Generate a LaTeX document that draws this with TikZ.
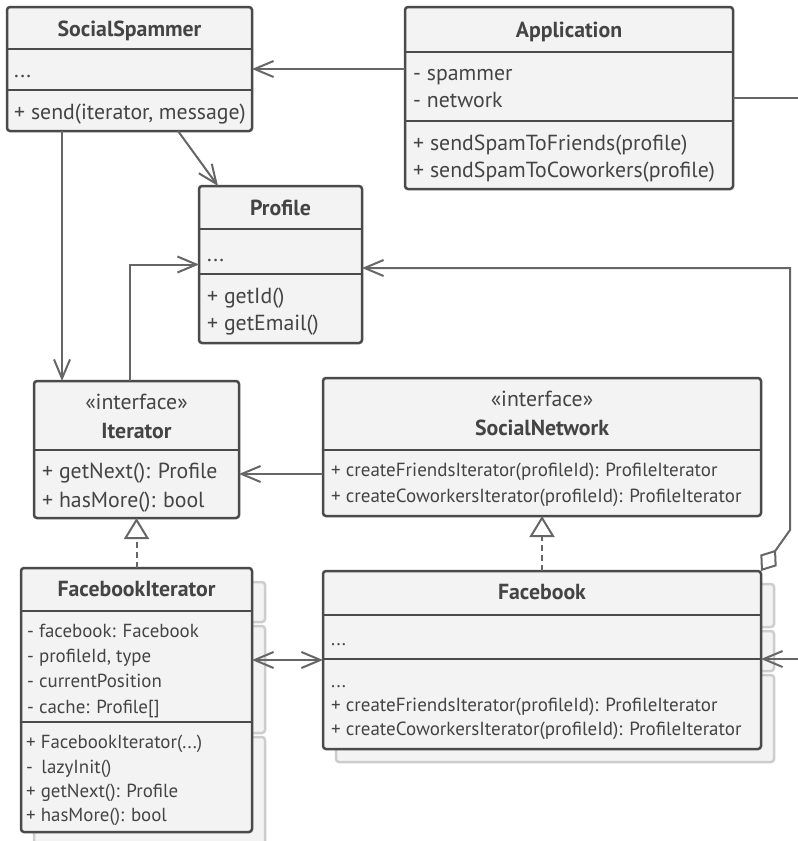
\documentclass[tikz,border=0pt]{standalone}
\usepackage{fontspec}
\setmainfont{PT Sans}
\usetikzlibrary{arrows.meta}
\definecolor{boxfill}{HTML}{F3F3F3}
\definecolor{boxline}{HTML}{4A4A4A}
\definecolor{txt}{HTML}{444444}
\definecolor{conncol}{HTML}{666666}
\definecolor{shadowline}{HTML}{CDCDCD}
\begin{document}
\begin{tikzpicture}[x=1pt,y=-1pt,
  cls/.style={draw=boxline, fill=boxfill, line width=2.5pt, rounded corners=3pt, inner sep=0pt, outer sep=0pt, anchor=north west},
  div/.style={draw=boxline, line width=2.5pt},
  shd/.style={draw=shadowline, fill=boxfill, line width=2.5pt, rounded corners=3pt},
  conn/.style={draw=conncol, line width=2pt},
  openhead/.style={-{Straight Barb[length=19pt,width=16pt]}},
  realize/.style={conn, dash pattern=on 6pt off 4pt, -{Triangle[open,length=21pt,width=25pt]}},
  ttl/.style={font=\bfseries\fontsize{21.8}{24}\selectfont, text=txt, anchor=base, inner sep=0pt},
  ster/.style={font=\fontsize{21.8}{24}\selectfont, text=txt, anchor=base, inner sep=0pt},
  mem/.style={font=\fontsize{21.8}{24}\selectfont, text=txt, anchor=base west, inner sep=0pt},
  memS/.style={font=\fontsize{19}{22}\selectfont, text=txt, anchor=base west, inner sep=0pt},
  memM/.style={font=\fontsize{18.9}{22}\selectfont, text=txt, anchor=base west, inner sep=0pt}
]
\useasboundingbox (0,0) rectangle (798,841);

% shadows
\draw[shd] (336,584) rectangle (774,627);
\draw[shd] (336,631) rectangle (774,671);
\draw[shd] (336,675) rectangle (774,762);
\draw[shd] (34,582) rectangle (265,622);
\draw[shd] (34,626) rectangle (265,733);
\draw[shd] (34,737) rectangle (265,860);

% SocialSpammer
\node[cls, minimum width=245pt, minimum height=124pt] (ss) at (7,7) {};
\draw[div] (ss.west |- 0,49) -- (ss.east |- 0,49);
\draw[div] (ss.west |- 0,90) -- (ss.east |- 0,90);
\node[ttl] (ssT) at (ss.north |- 0,36) {SocialSpammer};
\node[mem] (ssA) at (14,77) {...};
\node[mem] (ssM) at (14,119) {+ send(iterator, message)};

% Application
\node[cls, minimum width=328pt, minimum height=182pt] (app) at (405,7) {};
\draw[div] (app.west |- 0,52) -- (app.east |- 0,52);
\draw[div] (app.west |- 0,121) -- (app.east |- 0,121);
\node[ttl] (appT) at (app.north |- 0,37) {Application};
\node[mem] (appA1) at (413,80) {- spammer};
\node[mem] (appA2) at (413,107) {- network};
\node[mem] (appM1) at (413,150) {+ sendSpamToFriends(profile)};
\node[mem] (appM2) at (413,177) {+ sendSpamToCoworkers(profile)};

% Profile
\node[cls, minimum width=163pt, minimum height=157pt] (prof) at (199,186) {};
\draw[div] (prof.west |- 0,229) -- (prof.east |- 0,229);
\draw[div] (prof.west |- 0,274) -- (prof.east |- 0,274);
\node[ttl] (profT) at (prof.north |- 0,215) {Profile};
\node[mem] (profA) at (207,261) {...};
\node[mem] (profM1) at (207,303) {+ getId()};
\node[mem] (profM2) at (207,330) {+ getEmail()};

% Iterator
\node[cls, minimum width=205pt, minimum height=137pt] (it) at (34,381) {};
\draw[div] (it.west |- 0,450) -- (it.east |- 0,450);
\node[ster] (itS) at (it.north |- 0,409) {«interface»};
\node[ttl] (itT) at (it.north |- 0,438) {Iterator};
\node[mem] (itM1) at (42,478) {+ getNext(): Profile};
\node[mem] (itM2) at (42,507) {+ hasMore(): bool};

% SocialNetwork
\node[cls, minimum width=438pt, minimum height=138pt] (sn) at (323,378) {};
\draw[div] (sn.west |- 0,450) -- (sn.east |- 0,450);
\node[ster] (snS) at (sn.north |- 0,406) {«interface»};
\node[ttl] (snT) at (sn.north |- 0,435) {SocialNetwork};
\node[memS] (snM1) at (331,476) {+ createFriendsIterator(profileId): ProfileIterator};
\node[memS] (snM2) at (331,502) {+ createCoworkersIterator(profileId): ProfileIterator};

% FacebookIterator
\node[cls, minimum width=231pt, minimum height=264pt] (fbi) at (21,568) {};
\draw[div] (fbi.west |- 0,611) -- (fbi.east |- 0,611);
\draw[div] (fbi.west |- 0,722) -- (fbi.east |- 0,722);
\node[ttl] (fbiT) at (fbi.north |- 0,596) {FacebookIterator};
\node[memM] (fbiA1) at (27,637) {- facebook: Facebook};
\node[memM] (fbiA2) at (27,662) {- profileId, type};
\node[memM] (fbiA3) at (27,687) {- currentPosition};
\node[memM] (fbiA4) at (27,713) {- cache: Profile[]};
\node[memM] (fbiM1) at (26,748) {+ FacebookIterator(...)};
\node[memM] (fbiM2) at (26,773) {-\hspace{0.45em}lazyInit()};
\node[memM] (fbiM3) at (26,797) {+ getNext(): Profile};
\node[memM] (fbiM4) at (26,821) {+ hasMore(): bool};

% Facebook
\node[cls, minimum width=438pt, minimum height=178pt] (fb) at (323,571) {};
\draw[div] (fb.west |- 0,615) -- (fb.east |- 0,615);
\draw[div] (fb.west |- 0,659) -- (fb.east |- 0,659);
\node[ttl] (fbT) at (fb.north |- 0,599) {Facebook};
\node[memS] (fbA) at (331,645) {...};
\node[memS] (fbM0) at (331,687) {...};
\node[memS] (fbM1) at (331,711) {+ createFriendsIterator(profileId): ProfileIterator};
\node[memS] (fbM2) at (331,735) {+ createCoworkersIterator(profileId): ProfileIterator};

% connectors
\coordinate (appOut) at (798,98);
\coordinate (fbIn) at (798,659);
\coordinate (bend) at (790,530);
\coordinate (snA) at ([yshift=-27pt]sn.west);

\draw[conn, openhead] (app.west |- ss.east) -- (ss.east);
\draw[conn] (app.east) -- (appOut);
\draw[conn, openhead] ([xshift=48.5pt]ss.south) -- ([xshift=-62.5pt]prof.north);
\draw[conn, openhead] ([xshift=-67.5pt]ss.south) -- ([xshift=-67.5pt]ss.south |- it.north);
\draw[conn, openhead] ([xshift=-6.5pt]it.north) |- (prof.west);
\draw[conn, openhead] (snA) -- (snA -| it.east);
\draw[realize] (fbi.north) -- (it.south);
\draw[realize] (fb.north) -- (sn.south);
\draw[conn, {Straight Barb[length=19pt,width=16pt]}-{Straight Barb[length=19pt,width=16pt]}] (fb.west -| fbi.east) -- (fb.west);
\draw[conn, openhead] (fbIn) -- (fbIn -| fb.east);
\draw[conn, {Diamond[open,length=26pt,width=20pt]}-{Straight Barb[length=19pt,width=16pt]}] (fb.north east) -- (bend) |- ([yshift=-3.5pt]prof.east);
\end{tikzpicture}
\end{document}
